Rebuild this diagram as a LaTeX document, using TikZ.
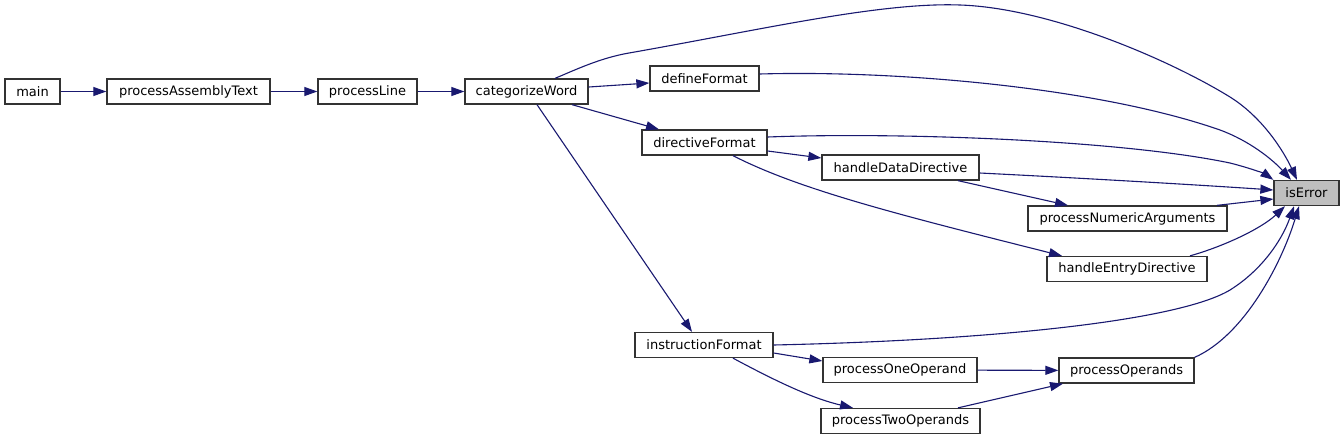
\documentclass[tikz,border=0pt]{standalone}
\usepackage{fontspec}
\setmainfont{DejaVu Sans}
\usetikzlibrary{arrows.meta}
\definecolor{edgeblue}{HTML}{191970}
\definecolor{rootgray}{HTML}{BFBFBF}
\begin{document}
\begin{tikzpicture}[x=1pt,y=-1pt,
  box/.style={draw=black!80, line width=1.3pt, fill=white, minimum height=25pt, inner sep=0pt,
    font=\fontsize{13}{15}\selectfont},
  root/.style={box, fill=rootgray},
  edge/.style={draw=edgeblue, line width=1.1pt, -{Triangle[length=13pt,width=9pt]}, edgeblue}]
\useasboundingbox (0,0) rectangle (1344,440);
\fill[white] (0,0) rectangle (1344,440);

\node[box, minimum width=55pt]  (main) at (32.5,91.5) {main};
\node[box, minimum width=163pt] (pat)  at (188.5,91.5) {processAssemblyText};
\node[box, minimum width=99pt]  (pl)   at (367.5,91.5) {processLine};
\node[box, minimum width=123pt] (cw)   at (526.5,91.5) {categorizeWord};
\node[box, minimum width=109pt] (df)   at (704.5,78.5) {defineFormat};
\node[box, minimum width=125pt] (dirf) at (704.5,142.5) {directiveFormat};
\node[box, minimum width=157pt] (hdd)  at (900.5,167.5) {handleDataDirective};
\node[root, minimum width=65pt] (ie)   at (1306.5,193) {isError};
\node[box, minimum width=199pt] (pna)  at (1127.5,218.5) {processNumericArguments};
\node[box, minimum width=160pt] (hed)  at (1127,269) {handleEntryDirective};
\node[box, minimum width=138pt] (inf)  at (704,345) {instructionFormat};
\node[box, minimum width=154pt] (poo)  at (900,370) {processOneOperand};
\node[box, minimum width=159pt] (pto)  at (900.5,421) {processTwoOperands};
\node[box, minimum width=135pt] (pops) at (1126.5,370.5) {processOperands};

% chain
\draw[edge] (main) -- (pat);
\draw[edge] (pat) -- (pl);
\draw[edge] (pl) -- (cw);

% from categorizeWord
\draw[edge] (cw.east |- 0,87) -- (df.west |- 0,83);
\draw[edge] (cw.south -| 572,0) -- (dirf.north -| 659,0);
\draw[edge] (cw.south -| 537,0) -- (inf.north -| 692,0);
\draw[edge] (cw.north -| 555,0) .. controls (575,70) and (600,58) .. (629,53)
  .. controls (760,30) and (880,2) .. (960,5)
  .. controls (1050,8) and (1170,60) .. (1230,97)
  .. controls (1262,117) and (1283,150) .. (ie.north -| 1297,0);

% defineFormat
\draw[edge] (df.east |- 0,74) .. controls (900,70) and (1100,88) .. (1220,130)
  .. controls (1250,141) and (1273,160) .. (ie.north -| 1291,0);

% directiveFormat
\draw[edge] (dirf.east |- 0,137) .. controls (900,132) and (1120,140) .. (1230,163)
  .. controls (1250,168) and (1265,174) .. (ie.north west);
\draw[edge] (dirf.east |- 0,151) -- (hdd.west |- 0,158);
\draw[edge] (dirf.south -| 733,0) .. controls (800,190) and (900,215) .. (hed.north -| 1062,0);

% handleDataDirective
\draw[edge] (hdd.east |- 0,173) .. controls (1080,178) and (1200,185) .. (ie.west |- 0,190);
\draw[edge] (hdd.south -| 958,0) -- (pna.north -| 1068,0);

% processNumericArguments
\draw[edge] (pna.north -| 1217,0) -- (ie.west |- 0,199);

% handleEntryDirective
\draw[edge] (hed.north -| 1190,0) .. controls (1225,246) and (1262,228) .. (ie.south -| 1285,0);

% instructionFormat
\draw[edge] (inf.east) .. controls (1000,340) and (1180,320) .. (1230,290)
  .. controls (1262,270) and (1282,240) .. (ie.south -| 1294,0);
\draw[edge] (inf.east |- 0,353) -- (poo.west |- 0,361);
\draw[edge] (inf.south -| 733,0) .. controls (770,378) and (810,398) .. (pto.north -| 853,0);

% operands
\draw[edge] (poo) -- (pops);
\draw[edge] (pto.north -| 958,0) -- (pops.south -| 1063,0);
\draw[edge] (pops.north east) .. controls (1245,335) and (1282,262) .. (ie.south -| 1299,0);
\end{tikzpicture}
\end{document}
